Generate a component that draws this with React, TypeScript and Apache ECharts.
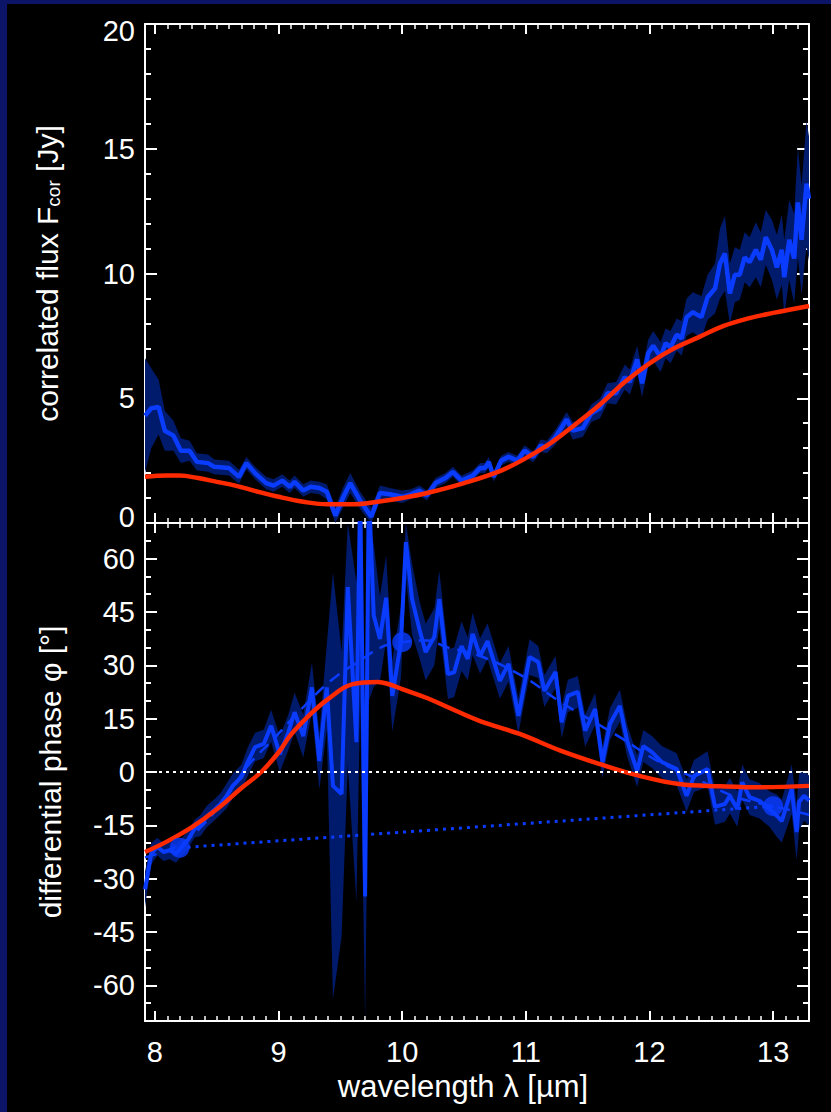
import React, { useEffect, useRef } from 'react';
import * as echarts from 'echarts';

// ---------- data ----------
const xTicks = [8, 9, 10, 11, 12, 13];
const phaseTicks = [-60, -45, -30, -15, 0, 15, 30, 45, 60];

const fluxWl = [7.92, 7.97, 8.03, 8.08, 8.15, 8.21, 8.28, 8.34, 8.43, 8.48, 8.6, 8.68, 8.74, 8.81, 8.9, 8.96, 9.03, 9.09, 9.13, 9.2, 9.26, 9.33, 9.39, 9.46, 9.52, 9.58, 9.66, 9.75, 9.82, 9.9, 10.0, 10.07, 10.14, 10.2, 10.27, 10.35, 10.41, 10.48, 10.57, 10.63, 10.67, 10.7, 10.74, 10.8, 10.86, 10.93, 10.99, 11.06, 11.12, 11.17, 11.24, 11.33, 11.38, 11.46, 11.53, 11.6, 11.66, 11.73, 11.8, 11.84, 11.9, 11.94, 11.99, 12.03, 12.09, 12.13, 12.17, 12.22, 12.26, 12.3, 12.35, 12.42, 12.47, 12.53, 12.57, 12.61, 12.65, 12.69, 12.73, 12.77, 12.81, 12.86, 12.9, 12.94, 12.99, 13.03, 13.07, 13.09, 13.13, 13.17, 13.2, 13.23, 13.27, 13.29];
const fluxVal = [4.3, 4.6, 4.65, 3.7, 3.5, 2.9, 2.9, 2.45, 2.4, 2.25, 2.2, 1.85, 2.4, 2.0, 1.6, 1.5, 1.7, 1.45, 1.65, 1.3, 1.45, 1.4, 1.25, 0.3, 1.0, 1.6, 0.9, 0.25, 1.2, 1.15, 1.05, 1.15, 1.3, 1.1, 1.6, 1.8, 2.05, 1.7, 1.9, 2.2, 2.2, 2.45, 1.85, 2.5, 2.65, 2.5, 2.9, 2.65, 3.1, 3.05, 3.45, 4.15, 3.7, 3.8, 4.4, 4.6, 5.2, 5.2, 5.85, 5.65, 6.55, 5.6, 6.8, 7.1, 6.65, 7.2, 7.05, 7.55, 7.4, 8.25, 8.45, 8.25, 9.05, 9.4, 10.4, 10.8, 9.2, 9.95, 9.95, 10.65, 10.45, 10.95, 10.55, 11.45, 10.95, 10.25, 10.95, 9.85, 11.35, 10.6, 12.85, 11.35, 13.6, 13.0];
const fluxErr = [2.3, 1.6, 1.1, 0.8, 0.6, 0.5, 0.4, 0.35, 0.35, 0.3, 0.3, 0.28, 0.25, 0.25, 0.25, 0.25, 0.25, 0.25, 0.25, 0.25, 0.25, 0.25, 0.3, 0.35, 0.4, 0.4, 0.35, 0.35, 0.3, 0.25, 0.25, 0.2, 0.2, 0.2, 0.2, 0.2, 0.2, 0.2, 0.2, 0.2, 0.2, 0.2, 0.2, 0.2, 0.2, 0.2, 0.22, 0.22, 0.25, 0.25, 0.3, 0.3, 0.35, 0.35, 0.35, 0.4, 0.4, 0.45, 0.5, 0.5, 0.55, 0.55, 0.55, 0.6, 0.6, 0.6, 0.65, 0.65, 0.7, 0.75, 0.8, 0.85, 0.9, 1.0, 1.4, 1.5, 1.2, 1.1, 1.0, 1.0, 1.0, 1.1, 1.1, 1.1, 1.2, 1.3, 1.4, 1.5, 1.6, 1.8, 2.2, 2.2, 2.5, 2.5];

const fluxModelWl = [7.92, 8.1, 8.2, 8.35, 8.5, 8.65, 8.8, 9.0, 9.2, 9.4, 9.6, 9.8, 10.0, 10.2, 10.5, 10.8, 11.0, 11.2, 11.4, 11.6, 11.8, 12.0, 12.2, 12.4, 12.6, 12.8, 13.0, 13.29];
const fluxModelVal = [1.85, 1.9, 1.9, 1.8, 1.65, 1.5, 1.3, 1.05, 0.85, 0.75, 0.75, 0.85, 1.0, 1.2, 1.6, 2.1, 2.6, 3.2, 3.95, 4.75, 5.65, 6.4, 7.0, 7.45, 7.9, 8.2, 8.42, 8.7];

const phaseWl = [7.92, 7.97, 8.02, 8.07, 8.12, 8.17, 8.22, 8.27, 8.32, 8.37, 8.42, 8.47, 8.53, 8.58, 8.63, 8.7, 8.75, 8.81, 8.88, 8.94, 9.01, 9.08, 9.13, 9.2, 9.27, 9.33, 9.39, 9.44, 9.51, 9.56, 9.63, 9.66, 9.7, 9.73, 9.77, 9.82, 9.87, 9.92, 9.99, 10.03, 10.08, 10.14, 10.19, 10.26, 10.3, 10.37, 10.42, 10.48, 10.53, 10.57, 10.63, 10.69, 10.79, 10.86, 10.94, 11.03, 11.1, 11.15, 11.24, 11.29, 11.34, 11.42, 11.48, 11.56, 11.62, 11.68, 11.76, 11.82, 11.9, 11.95, 12.02, 12.1, 12.22, 12.3, 12.36, 12.47, 12.53, 12.61, 12.65, 12.71, 12.75, 12.81, 12.89, 12.97, 13.03, 13.07, 13.15, 13.19, 13.21, 13.25, 13.29];
const phaseVal = [-33, -23, -21, -22.5, -22, -23, -21, -19, -16, -15, -12.5, -11, -9, -6.7, -3.9, -1.4, 2.8, 7, 7.9, 13, 5, 11.2, 16.8, 10.1, 23.8, 3.1, 23.8, -3.9, -6.2, 52, 8.4, 80, -35, 80, 44, 37.4, 49, 21.4, 36.5, 64.6, 48.6, 40, 33.7, 38, 48.6, 27.5, 28, 35.4, 31.8, 38.8, 32.6, 36.8, 25.6, 30.4, 15.8, 32.3, 30.9, 22.8, 28.1, 14, 21.4, 22.5, 11.6, 17.7, 2.8, 13.5, 18.6, 8.7, 0.3, 7.3, 5.6, 2.8, 0.8, -6.7, -1.1, 0.8, -9.8, -9, -6.7, -10.4, -2.9, -7.1, -8.1, -10.4, -12.3, -13.8, -4.8, -16.9, -8.4, -6.7, -8];
const phaseErr = [5, 3, 2.5, 2.5, 2.5, 2.5, 2.5, 2.5, 2.5, 3, 3, 3, 3, 3.5, 3.5, 3.5, 4, 4, 4, 4.5, 5, 5, 5.5, 6, 7, 8, 12, 60, 40, 50, 45, 60, 40, 60, 20, 12, 12, 10, 10, 10, 10, 8, 8, 8, 8, 7, 7, 7, 6, 6, 5, 5, 5, 5, 5, 5, 4.5, 4.5, 4.5, 4.5, 4.5, 4.5, 4.5, 4.5, 4.5, 4.5, 4.5, 4.5, 4.5, 4.5, 4.5, 4.5, 4.5, 4.5, 4.5, 5, 5, 5, 5, 5, 5, 5, 5, 5, 6, 6, 7, 8, 8, 7, 7];

const phaseFitWl = [7.92, 8.2, 8.4, 8.6, 8.75, 8.96, 9.16, 9.42, 9.64, 9.85, 10.0, 10.2, 10.36, 10.63, 10.97, 11.28, 11.76, 12.08, 12.35, 12.67, 12.91, 13.0, 13.29];
const phaseFitVal = [-24, -20.5, -14.5, -6, 1.7, 9.3, 16.8, 25.6, 30.9, 35.4, 36.5, 37, 35.1, 32.6, 27, 19.7, 9.8, 2.8, -1.4, -6.7, -9, -9.6, -12];

const phaseModelWl = [7.92, 8.1, 8.3, 8.5, 8.7, 8.86, 9.0, 9.1, 9.25, 9.4, 9.6, 9.8, 9.9, 10.0, 10.2, 10.37, 10.63, 10.95, 11.28, 11.6, 11.92, 12.24, 12.57, 12.91, 13.29];
const phaseModelVal = [-22.5, -19.5, -15.5, -10.5, -4.5, 0, 5.5, 10.5, 16, 20.5, 24.7, 25.3, 24.6, 23.3, 20.8, 18.2, 14.3, 10.7, 6, 2.2, -1.1, -3.4, -4, -4.3, -3.9];

const phasePtWl = [8.2, 10.0, 13.0];
const phasePtVal = [-21.3, 36.5, -9.6];

// ---------- styles ----------
const WHITE = '#ffffff';
const BLUE = '#0a3cff';
const BAND = '#001a6c';
const RED = '#ff2a00';
const NAVY = '#0b1466';
const FONT = '"Liberation Sans", Arial, Helvetica, sans-serif';
const X_MIN = 7.92;
const X_MAX = 13.29;

const zip = (a: number[], b: number[]) => a.map((v, i) => [v, b[i]]);

function xAxis(gridIndex: number, position: 'top' | 'bottom', labels: boolean, name?: string) {
  return {
    type: 'value',
    gridIndex,
    position,
    min: X_MIN,
    max: X_MAX,
    splitLine: { show: false },
    axisLine: { show: true, onZero: false, lineStyle: { color: WHITE, width: 2 } },
    axisTick: { show: true, inside: true, length: 10, customValues: xTicks, lineStyle: { color: WHITE, width: 2 } },
    minorTick: { show: true, splitNumber: 10, length: 5, lineStyle: { color: WHITE, width: 1.5 } },
    axisLabel: { show: labels, customValues: xTicks, color: WHITE, fontSize: 29, fontFamily: FONT, margin: 16 },
    name: name || '',
    nameLocation: 'middle',
    nameGap: 50,
    nameTextStyle: { color: WHITE, fontSize: 31, fontFamily: FONT, padding: [0, 28, 0, 0] },
  };
}

// error band drawn as one polygon through the axes' own scales
function bandSeries(xi: number, yi: number, wl: number[], val: number[], err: number[], lo: number, hi: number) {
  const clamp = (v: number) => Math.max(lo, Math.min(hi, v));
  return {
    type: 'custom',
    coordinateSystem: 'cartesian2d',
    xAxisIndex: xi,
    yAxisIndex: yi,
    clip: true,
    silent: true,
    z: 1,
    data: [[wl[0], val[0]]],
    renderItem: (_params: any, api: any) => {
      const up = wl.map((w, i) => api.coord([w, clamp(val[i] + err[i])]));
      const dn = wl.map((w, i) => api.coord([w, clamp(val[i] - err[i])])).reverse();
      return { type: 'polygon', shape: { points: up.concat(dn) }, style: { fill: BAND } };
    },
  };
}

export default function App() {
  const ref = useRef<HTMLDivElement>(null);
  useEffect(() => {
    if (!ref.current) return;
    const chart = echarts.init(ref.current, null, { renderer: 'svg' });

    const option: any = {
      animation: false,
      backgroundColor: '#000000',
      graphic: [
        { type: 'rect', shape: { x: 0, y: 0, width: 7, height: 1112 }, style: { fill: NAVY }, silent: true },
        { type: 'rect', shape: { x: 0, y: 0, width: 831, height: 4 }, style: { fill: NAVY }, silent: true },
      ],
      grid: [
        { left: 145, top: 24, width: 664, height: 499, containLabel: false },
        { left: 145, top: 523, width: 664, height: 498, containLabel: false },
      ],
      xAxis: [
        xAxis(0, 'bottom', false),
        xAxis(0, 'top', false),
        xAxis(1, 'bottom', true, 'wavelength λ [µm]'),
        xAxis(1, 'top', false),
      ],
      yAxis: [
        {
          type: 'value', gridIndex: 0, position: 'left', min: 0, max: 20, interval: 5,
          splitLine: { show: false },
          axisLine: { show: true, onZero: false, lineStyle: { color: WHITE, width: 2 } },
          axisTick: { show: true, inside: true, length: 12, lineStyle: { color: WHITE, width: 2 } },
          minorTick: { show: true, splitNumber: 5, length: 6, lineStyle: { color: WHITE, width: 2 } },
          axisLabel: {
            color: WHITE, fontSize: 29, fontFamily: FONT, margin: 10,
            formatter: (v: number) => (v === 20 ? '{t|20}' : v === 0 ? '{b|0}' : String(v)),
            rich: {
              t: { color: WHITE, fontSize: 29, fontFamily: FONT, padding: [14, 0, 0, 0] },
              b: { color: WHITE, fontSize: 29, fontFamily: FONT, padding: [0, 0, 12, 0] },
            },
          },
          name: '{a|correlated flux F}{s|cor}{a| [Jy]}',
          nameLocation: 'middle', nameGap: 80, nameRotate: 90,
          nameTextStyle: {
            color: WHITE, fontSize: 30, fontFamily: FONT,
            rich: {
              a: { color: WHITE, fontSize: 30, fontFamily: FONT, lineHeight: 36 },
              s: { color: WHITE, fontSize: 19, fontFamily: FONT, lineHeight: 36, padding: [12, 0, 0, 0] },
            },
          },
        },
        {
          type: 'value', gridIndex: 0, position: 'right', min: 0, max: 20, interval: 5,
          splitLine: { show: false },
          axisLine: { show: true, onZero: false, lineStyle: { color: WHITE, width: 2 } },
          axisTick: { show: true, inside: true, length: 12, lineStyle: { color: WHITE, width: 2 } },
          minorTick: { show: true, splitNumber: 5, length: 6, lineStyle: { color: WHITE, width: 2 } },
          axisLabel: { show: false },
        },
        {
          type: 'value', gridIndex: 1, position: 'left', min: -70, max: 70,
          splitLine: { show: false },
          axisLine: { show: true, onZero: false, lineStyle: { color: WHITE, width: 2 } },
          axisTick: { show: true, inside: true, length: 12, customValues: phaseTicks, lineStyle: { color: WHITE, width: 2 } },
          axisLabel: { show: true, customValues: phaseTicks, color: WHITE, fontSize: 29, fontFamily: FONT, margin: 10 },
          name: 'differential phase φ [°]',
          nameLocation: 'middle', nameGap: 80, nameRotate: 90,
          nameTextStyle: { color: WHITE, fontSize: 30, fontFamily: FONT },
        },
        {
          type: 'value', gridIndex: 1, position: 'right', min: -70, max: 70,
          splitLine: { show: false },
          axisLine: { show: true, onZero: false, lineStyle: { color: WHITE, width: 2 } },
          axisTick: { show: true, inside: true, length: 12, customValues: phaseTicks, lineStyle: { color: WHITE, width: 2 } },
          axisLabel: { show: false },
        },
        {
          type: 'value', gridIndex: 1, position: 'left', min: -70, max: 70, interval: 5,
          splitLine: { show: false },
          axisLine: { show: false, onZero: false },
          axisTick: { show: true, inside: true, length: 6, lineStyle: { color: WHITE, width: 2 } },
          axisLabel: { show: false },
        },
        {
          type: 'value', gridIndex: 1, position: 'right', min: -70, max: 70, interval: 5,
          splitLine: { show: false },
          axisLine: { show: false, onZero: false },
          axisTick: { show: true, inside: true, length: 6, lineStyle: { color: WHITE, width: 2 } },
          axisLabel: { show: false },
        },
      ],
      series: [
        bandSeries(0, 0, fluxWl, fluxVal, fluxErr, 0, 20),
        {
          type: 'line', xAxisIndex: 0, yAxisIndex: 0, data: zip(fluxWl, fluxVal), symbol: 'none',
          lineStyle: { color: BLUE, width: 4.5 }, z: 3,
        },
        {
          type: 'line', xAxisIndex: 0, yAxisIndex: 0, data: zip(fluxModelWl, fluxModelVal), symbol: 'none', smooth: 0.4,
          lineStyle: { color: RED, width: 4.5 }, z: 4,
        },
        bandSeries(2, 2, phaseWl, phaseVal, phaseErr, -70, 70),
        {
          type: 'line', xAxisIndex: 2, yAxisIndex: 2,
          data: [[phasePtWl[0], phasePtVal[0]], [phasePtWl[2], phasePtVal[2]]], symbol: 'none',
          lineStyle: { color: BLUE, width: 3, type: [3, 5] }, z: 2,
          markLine: {
            silent: true, symbol: ['none', 'none'], label: { show: false },
            lineStyle: { color: WHITE, width: 2, type: [3, 4] },
            data: [{ yAxis: 0 }],
          },
        },
        {
          type: 'line', xAxisIndex: 2, yAxisIndex: 2, data: zip(phaseFitWl, phaseFitVal), symbol: 'none', smooth: 0.4,
          lineStyle: { color: BLUE, width: 2.5, type: [12, 8] }, z: 3,
        },
        {
          type: 'line', xAxisIndex: 2, yAxisIndex: 2, data: zip(phaseWl, phaseVal), symbol: 'none',
          lineStyle: { color: BLUE, width: 4 }, z: 3,
        },
        {
          type: 'line', xAxisIndex: 2, yAxisIndex: 2, data: zip(phaseModelWl, phaseModelVal), symbol: 'none', smooth: 0.4,
          lineStyle: { color: RED, width: 4.5 }, z: 4,
        },
        {
          type: 'scatter', xAxisIndex: 2, yAxisIndex: 2, data: zip(phasePtWl, phasePtVal), symbol: 'circle', symbolSize: 20,
          itemStyle: { color: BLUE }, z: 5,
        },
      ],
    };
    chart.setOption(option);
    return () => chart.dispose();
  }, []);
  return <div ref={ref} style={{ position: 'fixed', left: 0, top: 0, width: 831, height: 1112 }} />;
}
